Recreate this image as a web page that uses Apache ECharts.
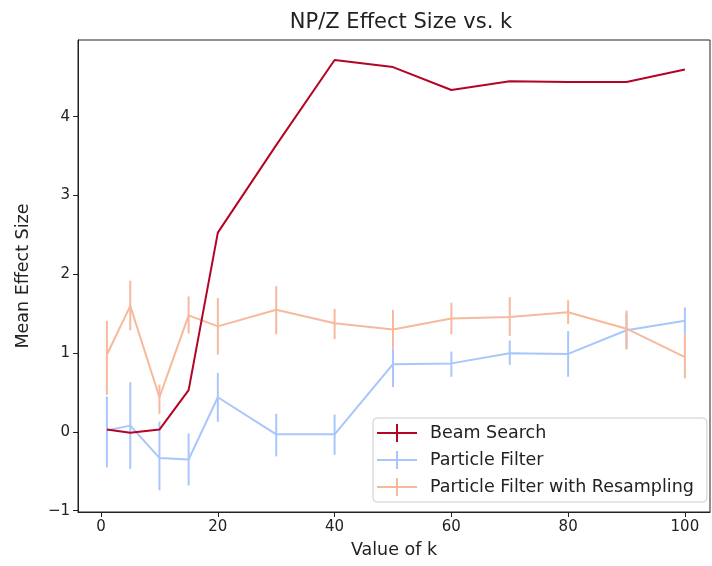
<!DOCTYPE html>
<html>
<head>
<meta charset="utf-8">
<script src="https://cdn.jsdelivr.net/npm/echarts@6/dist/echarts.min.js"></script>
<style>
    html, body { margin: 0; padding: 0; background: #fff; }
    #chart { width: 712px; height: 566px; }
</style>
</head>
<body>
<div id="chart"></div>
<script>
// k values on the x axis
var kValues = [1, 5, 10, 15, 20, 30, 40, 50, 60, 70, 80, 90, 100];

// Beam Search (error bars too small to see)
var beamMean = [0.03, -0.01, 0.03, 0.53, 2.53, 3.64, 4.72, 4.63, 4.34, 4.45, 4.44, 4.44, 4.60];

// Particle Filter
var pfMean = [0.02, 0.08, -0.33, -0.35, 0.44, -0.03, -0.03, 0.86, 0.87, 1.00, 0.99, 1.29, 1.41];
var pfLow  = [-0.45, -0.47, -0.74, -0.68, 0.13, -0.31, -0.29, 0.57, 0.70, 0.85, 0.70, 1.05, 1.24];
var pfHigh = [0.45, 0.63, 0.13, -0.02, 0.75, 0.23, 0.22, 1.06, 1.02, 1.16, 1.28, 1.50, 1.58];

// Particle Filter with Resampling
var pfrMean = [0.98, 1.60, 0.44, 1.48, 1.34, 1.55, 1.38, 1.30, 1.44, 1.46, 1.52, 1.31, 0.95];
var pfrLow  = [0.47, 1.29, 0.23, 1.25, 0.98, 1.24, 1.18, 1.06, 1.24, 1.22, 1.37, 1.05, 0.68];
var pfrHigh = [1.41, 1.92, 0.60, 1.72, 1.70, 1.85, 1.56, 1.55, 1.64, 1.71, 1.67, 1.54, 1.24];

// tick labels
var xTicks = [0, 20, 40, 60, 80, 100];
var yTicks = [-1, 0, 1, 2, 3, 4];

(function(window, document, undefined) {
    var FONT = 'DejaVu Sans';
    var CROSS = 'path://M0,8 L40,8 L40,10 L0,10 Z M19,0 L21,0 L21,18 L19,18 Z';

    var pairs = function(ys) {
        return kValues.map(function(k, i) { return [k, ys[i]]; });
    };

    var barData = function(lo, hi) {
        return kValues.map(function(k, i) { return [k, lo[i], hi[i]]; });
    };

    // matplotlib style minus sign
    var tickFmt = function(v) {
        return String(v).replace('-', '\u2212');
    };

    /*
        vertical error bar, no caps
     */
    var renderBar = function(params, api) {
        var top = api.coord([api.value(0), api.value(2)]);
        var bot = api.coord([api.value(0), api.value(1)]);
        return {
            type: 'line',
            shape: { x1: top[0], y1: top[1], x2: bot[0], y2: bot[1] },
            style: { stroke: api.visual('color'), lineWidth: 2 }
        };
    };

    var lineSeries = function(name, color, ys, z) {
        return {
            name: name,
            type: 'line',
            data: pairs(ys),
            showSymbol: false,
            symbol: 'none',
            color: color,
            lineStyle: { color: color, width: 2 },
            z: z,
            animation: false
        };
    };

    var barSeries = function(name, color, lo, hi, z) {
        return {
            name: name,
            type: 'custom',
            renderItem: renderBar,
            data: barData(lo, hi),
            color: color,
            itemStyle: { color: color },
            encode: { x: 0, y: [1, 2] },
            z: z,
            animation: false
        };
    };

    var RED = '#b40426', BLUE = '#a9c6fc', ORANGE = '#f6b99d';

    var option = {
        backgroundColor: '#fff',
        animation: false,
        title: {
            text: 'NP/Z Effect Size vs. k',
            left: 396,
            textAlign: 'center',
            top: 7,
            textStyle: { fontFamily: FONT, fontSize: 21, fontWeight: 'normal', color: '#222' }
        },
        grid: {
            left: 78, right: 2, top: 40, bottom: 54,
            show: true, borderColor: '#222', borderWidth: 1
        },
        legend: {
            orient: 'vertical',
            left: 373,
            top: 418,
            padding: [6, 13, 6, 4],
            itemWidth: 40,
            itemHeight: 18,
            itemGap: 9,
            backgroundColor: 'rgba(255,255,255,0.85)',
            borderColor: '#cccccc',
            borderWidth: 1,
            borderRadius: 4,
            textStyle: { fontFamily: FONT, fontSize: 17.5, color: '#222', lineHeight: 18, padding: [0, 0, 0, 8] },
            data: [
                { name: 'Beam Search', icon: CROSS },
                { name: 'Particle Filter', icon: CROSS },
                { name: 'Particle Filter with Resampling', icon: CROSS }
            ]
        },
        xAxis: {
            type: 'value',
            min: -3.95,
            max: 104.3,
            name: 'Value of k',
            nameLocation: 'middle',
            nameGap: 29,
            nameTextStyle: { fontFamily: FONT, fontSize: 17.5, color: '#222' },
            splitLine: { show: false },
            axisLine: { show: true, onZero: false, lineStyle: { color: '#222', width: 1 } },
            axisTick: { show: true, inside: false, length: 5, customValues: xTicks, lineStyle: { color: '#222' } },
            axisLabel: { customValues: xTicks, fontFamily: FONT, fontSize: 15, color: '#222', margin: 8 }
        },
        yAxis: {
            type: 'value',
            min: -1.016,
            max: 4.974,
            name: 'Mean Effect Size',
            nameLocation: 'middle',
            nameGap: 46,
            nameRotate: 90,
            nameTextStyle: { fontFamily: FONT, fontSize: 17.5, color: '#222' },
            splitLine: { show: false },
            axisLine: { show: true, onZero: false, lineStyle: { color: '#222', width: 1 } },
            axisTick: { show: true, inside: false, length: 5, customValues: yTicks, lineStyle: { color: '#222' } },
            axisLabel: { customValues: yTicks, formatter: tickFmt, fontFamily: FONT, fontSize: 15, color: '#222', margin: 8 }
        },
        series: [
            lineSeries('Beam Search', RED, beamMean, 5),
            lineSeries('Particle Filter', BLUE, pfMean, 3),
            barSeries('Particle Filter', BLUE, pfLow, pfHigh, 3),
            lineSeries('Particle Filter with Resampling', ORANGE, pfrMean, 4),
            barSeries('Particle Filter with Resampling', ORANGE, pfrLow, pfrHigh, 4)
        ]
    };

    var myChart = echarts.init(document.getElementById('chart'), null, { renderer: 'canvas' });
    myChart.setOption(option);
}(window, document));
</script>
</body>
</html>
